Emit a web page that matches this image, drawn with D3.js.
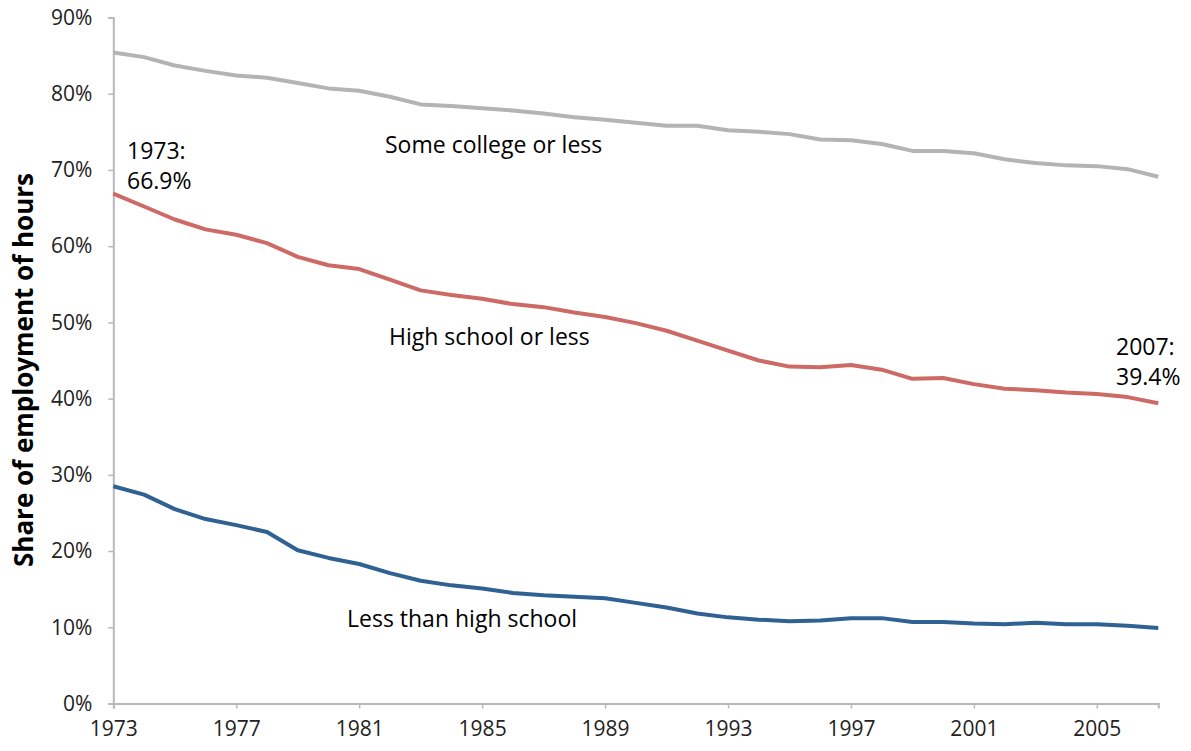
<!DOCTYPE html>
<html><head><meta charset="utf-8">
<script src="https://cdn.jsdelivr.net/npm/d3@7"></script>
<style>
html,body{margin:0;padding:0;background:#fff;}
svg text{font-family:"Open Sans","Noto Sans",sans-serif;}
</style></head>
<body><svg id="c" width="1191" height="751"></svg>
<script>
const years = d3.range(1973, 2008);
const someCollege = [85.4,84.8,83.7,83.0,82.4,82.1,81.4,80.7,80.4,79.6,78.6,78.4,78.1,77.8,77.4,76.9,76.6,76.2,75.8,75.8,75.2,75.0,74.7,74.0,73.9,73.4,72.5,72.5,72.2,71.4,70.9,70.6,70.5,70.1,69.1];
const highSchool = [66.9,65.2,63.5,62.2,61.5,60.4,58.6,57.5,57.0,55.6,54.2,53.6,53.1,52.4,52.0,51.3,50.7,49.9,48.9,47.6,46.3,45.0,44.2,44.1,44.4,43.8,42.6,42.7,41.9,41.3,41.1,40.8,40.6,40.2,39.4];
const lessHS = [28.5,27.4,25.5,24.2,23.4,22.5,20.1,19.1,18.3,17.1,16.1,15.5,15.1,14.5,14.2,14.0,13.8,13.2,12.6,11.8,11.3,11.0,10.8,10.9,11.2,11.2,10.7,10.7,10.5,10.4,10.6,10.4,10.4,10.2,9.9];
const xTicks = [1973,1977,1981,1985,1989,1993,1997,2001,2005];
const yTicks = [0,10,20,30,40,50,60,70,80,90];
const seriesNames = ["Some college or less","High school or less","Less than high school"];
const seriesColors = ["#b4b4b4","#cd6a66","#2f6193"];
const yTitle = "Share of employment of hours";

const svg = d3.select("#c");
const x = d3.scaleLinear().domain([1973,2007]).range([113.3,1158.3]);
const y = d3.scaleLinear().domain([0,90]).range([703.5,17.5]);

// axes
const xAxis = svg.append("g").attr("transform","translate(0,703.5)")
  .call(d3.axisBottom(x).tickValues(xTicks).tickFormat(d3.format("d")).tickSize(5).tickPadding(9));
const yAxis = svg.append("g").attr("transform","translate(113.3,0)")
  .call(d3.axisLeft(y).tickValues(yTicks).tickFormat(d=>d+"%").tickSize(5).tickPadding(16));
[xAxis,yAxis].forEach(a=>{
  a.select(".domain").attr("stroke","#b8b8b8").attr("stroke-width",2);
  a.selectAll(".tick line").attr("stroke","#b8b8b8").attr("stroke-width",1.5);
  a.selectAll(".tick text").attr("fill","#222").style("font-size","21px").style("font-family","'Open Sans',sans-serif");
});
xAxis.selectAll(".tick text").attr("dy","0.9em");

// lines
const line = d3.line().x((d,i)=>x(years[i])).y(d=>y(d));
[someCollege,highSchool,lessHS].forEach((s,k)=>{
  svg.append("path").datum(s).attr("d",line).attr("fill","none")
    .attr("stroke",seriesColors[k]).attr("stroke-width",4).attr("stroke-linejoin","round");
});

// labels
const lab = (t,px,py)=>svg.append("text").attr("x",px).attr("y",py).text(t)
  .style("font-size","23px").attr("fill","#000");
lab(seriesNames[0],385,153);
lab(seriesNames[1],389,345);
lab(seriesNames[2],347,627);
lab(years[0]+":",127,159);
lab(highSchool[0].toFixed(1)+"%",127,189);
lab(years[years.length-1]+":",1116,355);
lab(highSchool[highSchool.length-1].toFixed(1)+"%",1116,385);

svg.append("text").attr("transform","translate(33,370) rotate(-90)")
  .attr("text-anchor","middle").style("font-size","26px").style("font-weight","bold")
  .attr("fill","#000").text(yTitle);
</script></body></html>
